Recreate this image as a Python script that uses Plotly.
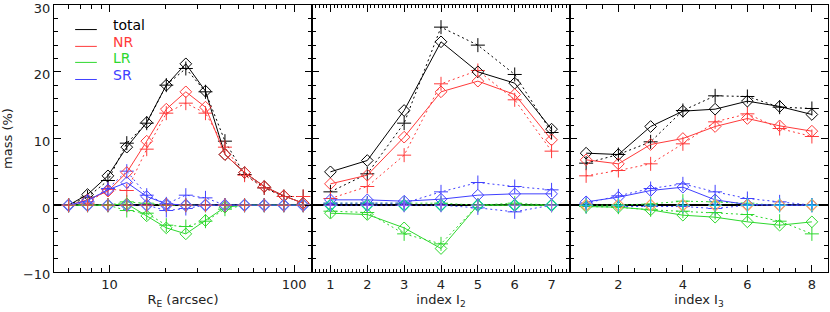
import plotly.graph_objects as go

# ---------------- data ----------------
# Panel 1: x = R_E (arcsec), log axis
x1 = [6.0, 7.6, 9.8, 12.4, 15.9, 20.3, 25.9, 33.1, 42.2, 53.9, 68.9, 88.0, 112.0]
tot1_d = [0.0, 1.6, 4.4, 8.7, 12.4, 18.0, 21.2, 17.1, 7.6, 4.9, 2.8, 1.4, 0.3]
tot1_p = [0.0, 1.2, 3.7, 9.3, 12.3, 18.0, 20.5, 17.0, 9.6, 4.6, 2.6, 1.3, 1.3]
nr1_d = [0.0, 0.8, 2.1, 4.9, 9.6, 14.4, 17.0, 14.7, 7.6, 4.9, 2.8, 1.4, 0.3]
nr1_p = [0.0, 0.3, 2.4, 2.2, 8.4, 13.8, 15.3, 13.8, 8.7, 4.5, 2.6, 1.3, 1.3]
lr1_d = [0.0, 0.0, 0.0, 0.2, -1.6, -3.4, -4.3, -2.3, -0.3, 0.0, 0.0, 0.0, 0.0]
lr1_p = [0.0, 0.0, 0.0, -0.8, -1.2, -3.0, -3.2, -2.4, -0.6, 0.0, 0.0, 0.0, 0.0]
lr1_p2 = [0.0, 0.0, 0.0, 0.5, 0.3, 0.0, 0.0, 0.0, 0.0, 0.0, 0.0, 0.0, 0.0]
sr1_d = [0.0, 0.7, 2.3, 3.4, 1.3, 0.2, 0.0, 0.0, 0.0, 0.0, 0.0, 0.0, 0.0]
sr1_p = [0.0, 0.5, 2.5, 5.1, 1.5, 0.2, 1.5, 1.1, 0.0, 0.0, 0.0, 0.0, 0.0]
sr1_p2 = [0.0, 0.0, 0.0, 0.0, 0.0, -0.8, -0.5, 0.0, 0.0, 0.0, 0.0, 0.0, 0.0]

# Panel 2: x = index I2
x2 = [1, 2, 3, 4, 5, 6, 7]
tot2_d = [5.0, 6.7, 14.2, 24.5, 20.0, 18.3, 11.4]
tot2_p = [2.0, 4.7, 12.3, 26.7, 24.0, 19.6, 10.9]
nr2_d = [3.2, 4.5, 10.2, 17.0, 18.6, 16.6, 9.8]
nr2_p = [1.0, 2.8, 7.5, 18.2, 20.2, 15.8, 8.1]
lr2_d = [-1.2, -1.4, -3.4, -6.5, 0.0, 0.0, 0.0]
lr2_p = [-0.9, -1.1, -4.3, -5.8, 0.0, 0.0, 0.0]
lr2_p2 = [0.3, 0.3, 0.3, 0.3, 0.0, 0.3, 0.0]
sr2_d = [0.8, 0.8, 0.6, 0.9, 1.5, 1.7, 1.7]
sr2_p = [0.3, 0.3, 0.3, 2.0, 3.4, 2.8, 2.3]
sr2_p2 = [0.0, 0.0, 0.0, 0.0, -0.4, -1.0, 0.0]

# Panel 3: x = index I3
x3 = [1, 2, 3, 4, 5, 6, 7, 8]
tot3_d = [7.8, 7.6, 11.8, 14.1, 14.4, 15.6, 14.8, 13.6]
tot3_p = [6.3, 7.6, 9.5, 14.2, 16.4, 16.3, 14.7, 14.5]
nr3_d = [6.8, 6.2, 9.1, 10.0, 11.8, 13.0, 11.9, 11.1]
nr3_p = [4.4, 5.2, 6.2, 9.2, 12.5, 13.7, 11.5, 10.3]
lr3_d = [-0.2, -0.3, -0.7, -1.5, -1.8, -2.5, -3.0, -2.5]
lr3_p = [-0.2, -0.3, -0.7, -0.9, -1.1, -1.4, -2.4, -4.3]
lr3_p2 = [0.0, 0.0, 0.2, 0.6, 0.5, 0.3, 0.0, 0.0]
sr3_d = [0.5, 1.2, 2.2, 2.7, 0.8, 0.1, 0.0, 0.0]
sr3_p = [0.3, 1.4, 2.5, 3.2, 2.0, 1.0, 0.5, 0.0]
sr3_p2 = [-0.2, -0.2, -0.2, -0.2, -0.5, 0.0, 0.0, 0.0]

legend_names = ["total", "NR", "LR", "SR"]

# ---------------- style ----------------
BLACK = "#000000"
RED = "#ff3a3a"
GREEN = "#2ed82e"
BLUE = "#4040ff"
NAVY = "#0000a8"
colors = [BLACK, RED, GREEN, BLUE]
FONT = "DejaVu Sans"

fig = go.Figure()

panels = [
    (x1, [(tot1_d, tot1_p), (nr1_d, nr1_p), (lr1_d, lr1_p), (sr1_d, sr1_p)], lr1_p2, sr1_p2, "x", "y"),
    (x2, [(tot2_d, tot2_p), (nr2_d, nr2_p), (lr2_d, lr2_p), (sr2_d, sr2_p)], lr2_p2, sr2_p2, "x2", "y2"),
    (x3, [(tot3_d, tot3_p), (nr3_d, nr3_p), (lr3_d, lr3_p), (sr3_d, sr3_p)], lr3_p2, sr3_p2, "x3", "y3"),
]

DOT = "2px,3px"
CROSS = dict(symbol="cross-thin-open", size=10)
DIAM = dict(symbol="diamond-open", size=9)
for xs, series, lr_sec, sr_sec, xa, ya in panels:
    zeros = [0.0] * len(xs)
    for col, sec in [(GREEN, lr_sec), (BLUE, sr_sec)]:
        fig.add_trace(go.Scatter(
            x=xs, y=sec, xaxis=xa, yaxis=ya, mode="lines+markers",
            line=dict(color=col, width=1, dash=DOT),
            marker=dict(CROSS, line=dict(color=col, width=1)),
            showlegend=False, hoverinfo="skip"))
    for col, (d, p) in zip(colors, series):
        fig.add_trace(go.Scatter(
            x=xs, y=p, xaxis=xa, yaxis=ya, mode="lines+markers",
            line=dict(color=col, width=1, dash=DOT),
            marker=dict(CROSS, line=dict(color=col, width=1)),
            showlegend=False, hoverinfo="skip"))
    for col, (d, p) in zip(colors, series):
        fig.add_trace(go.Scatter(
            x=xs, y=d, xaxis=xa, yaxis=ya, mode="lines+markers",
            line=dict(color=col, width=1),
            marker=dict(DIAM, line=dict(color=col, width=1)),
            showlegend=False, hoverinfo="skip"))
    fig.add_trace(go.Scatter(
        x=xs, y=zeros, xaxis=xa, yaxis=ya, mode="markers",
        marker=dict(DIAM, line=dict(color=NAVY, width=1.2)),
        showlegend=False, hoverinfo="skip"))
    fig.add_trace(go.Scatter(
        x=xs, y=zeros, xaxis=xa, yaxis=ya, mode="markers",
        marker=dict(CROSS, line=dict(color=NAVY, width=1)),
        showlegend=False, hoverinfo="skip"))

# ---------------- axes ----------------
common_y = dict(range=[-10.02, 30.02], dtick=10, tick0=0, ticks="inside", ticklen=7,
                tickcolor="black", showline=True, linecolor="black", linewidth=1,
                mirror="allticks", showgrid=False, zeroline=True, zerolinecolor="black",
                zerolinewidth=1.5, ticklabeloverflow="allow",
                minor=dict(dtick=2, ticks="inside", ticklen=4, tickcolor="black"),
                tickfont=dict(family=FONT, size=13, color="#222"))
common_x = dict(ticks="inside", ticklen=7, tickcolor="black", showline=True,
                linecolor="black", linewidth=1, mirror="allticks", showgrid=False,
                zeroline=False, tickfont=dict(family=FONT, size=13, color="#222"),
                title_font=dict(family=FONT, size=13, color="#222"), title_standoff=4)

fig.update_layout(
    xaxis=dict(common_x, type="log", domain=[0, 1/3], range=[0.699, 2.097],
               tickvals=[10, 100], ticktext=["10", "100"],
               minor=dict(tickvals=[5, 6, 7, 8, 9, 20, 30, 40, 50, 60, 70, 80, 90],
                          ticks="inside", ticklen=4, tickcolor="black"),
               title_text="R<sub>E</sub> (arcsec)"),
    xaxis2=dict(common_x, domain=[1/3, 2/3], range=[0.5, 7.5], dtick=1, tick0=1,
                minor=dict(dtick=0.1, ticks="inside", ticklen=3, tickcolor="black"),
                title_text="index I<sub>2</sub>"),
    xaxis3=dict(common_x, domain=[2/3, 1], range=[0.5, 8.5], dtick=2, tick0=0,
                minor=dict(dtick=0.5, ticks="inside", ticklen=4, tickcolor="black"),
                title_text="index I<sub>3</sub>"),
    yaxis=dict(common_y, anchor="x", title_text="mass (%)", ticklabelshift=3,
               title_font=dict(family=FONT, size=13, color="#222"), title_standoff=8),
    yaxis2=dict(common_y, anchor="x2", showticklabels=False),
    yaxis3=dict(common_y, anchor="x3", showticklabels=False),
    width=830, height=312,
    margin=dict(l=54, r=2, t=5, b=40, autoexpand=False),
    plot_bgcolor="white", paper_bgcolor="white",
    font=dict(family=FONT, size=13, color="#222"),
)

# ---------------- legend (panel 1, top-left) ----------------
leg_y = [0.925, 0.862, 0.802, 0.738]
for name, col, yy in zip(legend_names, colors, leg_y):
    fig.add_shape(type="line", xref="x domain", yref="y domain",
                  x0=0.082, x1=0.166, y0=yy - 0.017, y1=yy - 0.017,
                  line=dict(color=col, width=1))
    fig.add_annotation(xref="x domain", yref="y domain", x=0.222, y=yy,
                       text=name, showarrow=False, xanchor="left", yanchor="middle",
                       font=dict(family=FONT, size=14, color=col))

fig.write_html("out.html", config={"displayModeBar": False},
               post_script="document.body.style.margin='0';document.body.style.padding='0';")
